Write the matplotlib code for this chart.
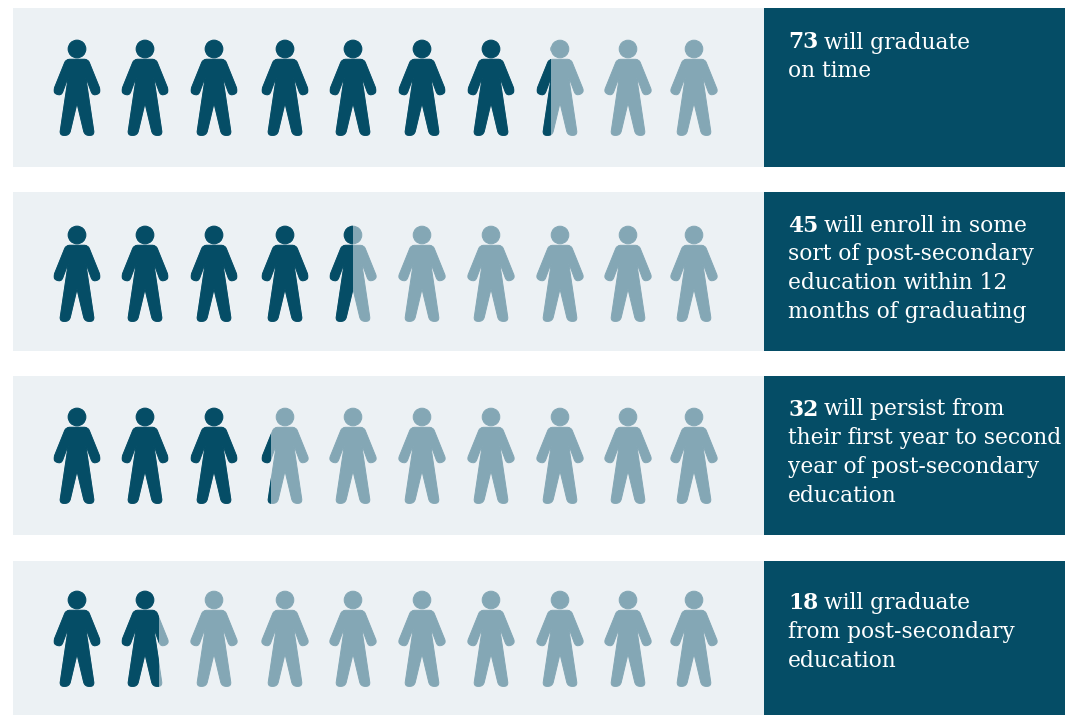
import numpy as np
import matplotlib
matplotlib.use("Agg")
from matplotlib import pyplot as plt
from matplotlib.patches import PathPatch, Rectangle
from matplotlib.path import Path

values = [73, 45, 32, 18]
captions = [
    ["will graduate", "on time"],
    ["will enroll in some", "sort of post-secondary", "education within 12", "months of graduating"],
    ["will persist from", "their first year to second", "year of post-secondary", "education"],
    ["will graduate", "from post-secondary", "education"],
]

DARK = "#054d66"
LIGHT = "#84a7b5"
BAND = "#ecf1f4"

# layout in pixels
band_tops = [8, 192, 376, 561]
band_bottoms = [167, 351, 535, 715]
head_ys = [49, 235, 417, 600]
text_ys = [48.5, 231.5, 415.5, 609]
person_xs = [77, 145, 214, 285, 353, 422, 491, 560, 628, 694]
BAND_LEFT, BOX_LEFT, BOX_RIGHT = 13, 764, 1065
PERSON_HALF = 23.3
LINE_H = 28.8
EDGE = 0.7
FONT = dict(family="DejaVu Serif", size=15.7, color="white", va="baseline")

# right half of the figure outline relative to the middle of the head: x, y, corner radius
half_body = [(11, 10.3, 3.5), (24.4, 43.5, 4.5), (15.8, 47, 4.5), (8.6, 27.5, 0.6),
             (17.4, 86.4, 4.5), (7.7, 86.4, 4.5), (0, 54, 0.6)]


def rounded_outline(points):
    # closed outline with a quadratic curve at every corner
    verts, codes = [], []
    n = len(points)
    for i, (x, y, r) in enumerate(points):
        here = np.array([x, y])
        prev = np.array(points[i - 1][:2])
        nxt = np.array(points[(i + 1) % n][:2])
        start = here + (prev - here) / np.linalg.norm(prev - here) * r
        end = here + (nxt - here) / np.linalg.norm(nxt - here) * r
        verts += [start, here, end]
        codes += [Path.MOVETO if i == 0 else Path.LINETO, Path.CURVE3, Path.CURVE3]
    verts.append(verts[0])
    codes.append(Path.CLOSEPOLY)
    return Path(verts, codes)


def person_path(cx, cy):
    right = [(cx + x, cy + y, r) for x, y, r in half_body]
    left = [(cx - x, cy + y, r) for x, y, r in half_body[-2::-1]]
    return Path.make_compound_path(rounded_outline(right + left), Path.circle((cx, cy), 8.8))


fig = plt.figure(figsize=(10.65, 7.15), dpi=100)
ax = fig.add_axes([0, 0, 1, 1])
ax.set_xlim(0, 1065)
ax.set_ylim(715, 0)
ax.axis("off")

for row, value in enumerate(values):
    top, bottom = band_tops[row], band_bottoms[row]
    ax.add_patch(Rectangle((BAND_LEFT, top), BOX_LEFT - BAND_LEFT, bottom - top, color=BAND, lw=0))
    ax.add_patch(Rectangle((BOX_LEFT, top), BOX_RIGHT - BOX_LEFT, bottom - top, color=DARK, lw=0))

    # each figure stands for ten, the dark part is cut at the share it covers
    for i, cx in enumerate(person_xs):
        share = np.clip(value / 10 - i, 0, 1)
        path = person_path(cx, head_ys[row])
        ax.add_patch(PathPatch(path, facecolor=LIGHT, edgecolor=LIGHT, lw=EDGE))
        if share > 0:
            dark = PathPatch(path, facecolor=DARK, edgecolor=DARK, lw=EDGE)
            ax.add_patch(dark)
            clip = Rectangle((cx - PERSON_HALF, top), 2 * PERSON_HALF * share, bottom - top,
                             transform=ax.transData)
            dark.set_clip_path(clip)

    first = ax.text(788, text_ys[row], str(value), fontweight="bold", **FONT)
    fig.canvas.draw()
    end = first.get_window_extent().x1
    ax.text(end + 6, text_ys[row], captions[row][0], **FONT)
    for n, line in enumerate(captions[row][1:], start=1):
        ax.text(788, text_ys[row] + n * LINE_H, line, **FONT)

fig.savefig("out.png", dpi=100)
